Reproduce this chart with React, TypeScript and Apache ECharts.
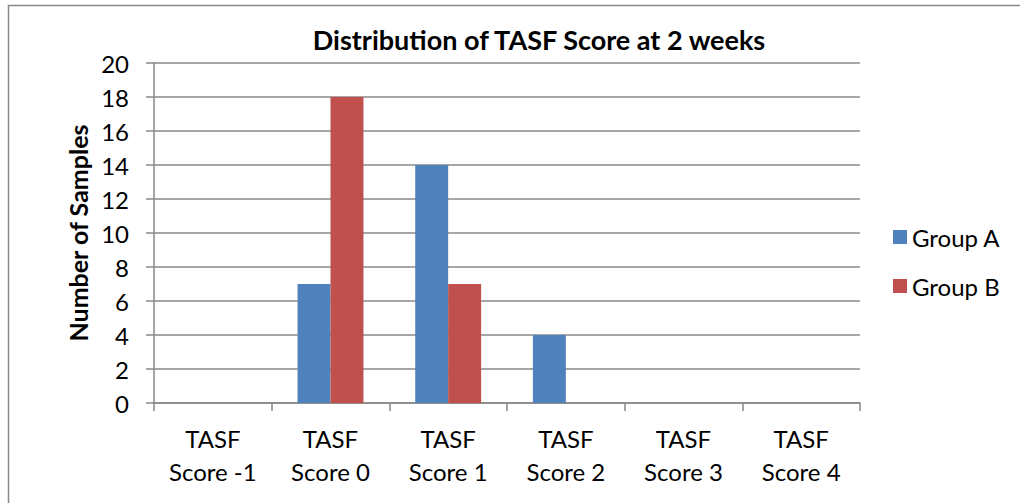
import React, { useEffect, useRef } from "react";
import * as echarts from "echarts";

const categories = ["TASF\nScore -1", "TASF\nScore 0", "TASF\nScore 1", "TASF\nScore 2", "TASF\nScore 3", "TASF\nScore 4"];
const groupA = [0, 7, 14, 4, 0, 0];
const groupB = [0, 18, 7, 0, 0, 0];
const yTicks = { min: 0, max: 20, interval: 2 };

const FONT = "Lato, 'Open Sans', sans-serif";
const GRAY = "#898989";

export default function App() {
  const ref = useRef<HTMLDivElement>(null);
  useEffect(() => {
    if (!ref.current) return;
    const chart = echarts.init(ref.current, null, { renderer: "svg" });
    chart.setOption({
      animation: false,
      backgroundColor: "#fff",
      textStyle: { fontFamily: FONT },
      title: {
        text: "Distribution of TASF Score at 2 weeks",
        left: 534,
        textAlign: "center",
        top: 21,
        textStyle: { fontFamily: FONT, fontWeight: "bold", fontSize: 27, color: "#000" },
      },
      graphic: [
        {
          type: "rect",
          shape: { x: 8.5, y: 5.5, width: 1100, height: 600 },
          style: { fill: "none", stroke: GRAY, lineWidth: 1.5 },
          silent: true,
        },
      ],
      legend: {
        orient: "vertical",
        left: 888,
        top: 220,
        itemWidth: 14,
        itemHeight: 14,
        itemGap: 25,
        icon: "rect",
        textStyle: { fontFamily: FONT, fontSize: 24, color: "#000" },
        data: ["Group A", "Group B"],
      },
      grid: { left: 154, right: 160, top: 63, bottom: 100, containLabel: false },
      xAxis: {
        type: "category",
        data: categories,
        axisLine: { lineStyle: { color: GRAY, width: 1.5 } },
        axisTick: { show: true, length: 8, lineStyle: { color: GRAY, width: 1.5 } },
        axisLabel: {
          interval: 0,
          margin: 19,
          fontFamily: FONT,
          fontSize: 24,
          lineHeight: 33,
          color: "#000",
        },
      },
      yAxis: {
        type: "value",
        min: yTicks.min,
        max: yTicks.max,
        interval: yTicks.interval,
        name: "Number of Samples",
        nameLocation: "middle",
        nameGap: 64,
        nameRotate: 90,
        nameTextStyle: { fontFamily: FONT, fontWeight: "bold", fontSize: 25, color: "#000" },
        axisLine: { show: true, lineStyle: { color: GRAY, width: 1.5 } },
        axisTick: { show: true, length: 8, lineStyle: { color: GRAY, width: 1.5 } },
        splitLine: { show: true, lineStyle: { color: GRAY, width: 1.5 } },
        axisLabel: { margin: 25, fontFamily: FONT, fontSize: 24, color: "#000" },
      },
      series: [
        {
          name: "Group A",
          type: "bar",
          data: groupA,
          barGap: "0%",
          barCategoryGap: "44%",
          itemStyle: { color: "#4F81BD" },
        },
        {
          name: "Group B",
          type: "bar",
          data: groupB,
          barGap: "0%",
          barCategoryGap: "44%",
          itemStyle: { color: "#C0504D" },
        },
      ],
    });
    return () => chart.dispose();
  }, []);
  return (
    <div
      ref={ref}
      style={{ position: "absolute", left: 0, top: 0, width: 1020, height: 503 }}
    />
  );
}
